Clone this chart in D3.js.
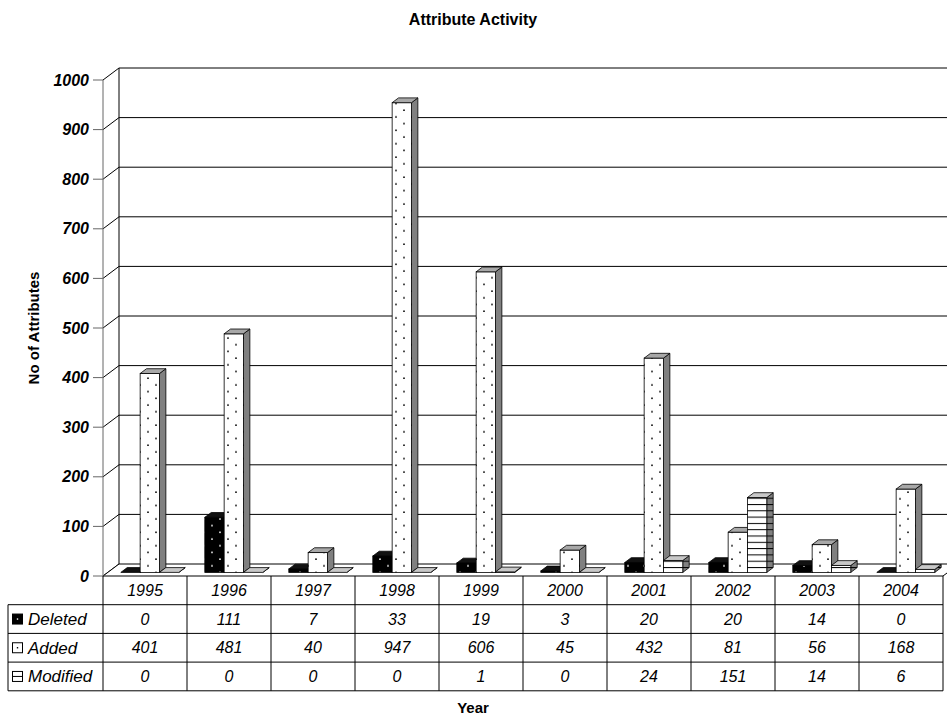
<!DOCTYPE html>
<html>
<head>
<meta charset="utf-8">
<script src="https://cdn.jsdelivr.net/npm/d3@7"></script>
<style>
  body { margin: 0; background: #fff; }
  svg { font-family: Arial, "Liberation Sans", sans-serif; }
</style>
</head>
<body>
<div id="chart"></div>
<script>
// Attribute Activity - 3D clustered columns with data table
const years = ['1995', '1996', '1997', '1998', '1999', '2000', '2001', '2002', '2003', '2004'];
const seriesNames = ['Deleted', 'Added', 'Modified'];
const deleted = [0, 111, 7, 33, 19, 3, 20, 20, 14, 0];
const added = [401, 481, 40, 947, 606, 45, 432, 81, 56, 168];
const modified = [0, 0, 0, 0, 1, 0, 24, 151, 14, 6];
const yTicks = [0, 100, 200, 300, 400, 500, 600, 700, 800, 900, 1000];

const seriesValues = { Deleted: deleted, Added: added, Modified: modified };

const W = 947, H = 717;
const left = 103, right = 943, zeroY = 576, topY = 80;
const DX = 16, DY = -12;          // depth of the plot box
const rowH = 28.7;

const svg = d3.select('#chart').append('svg')
    .attr('width', W)
    .attr('height', H);

// patterns
const defs = svg.append('defs');
function dotPattern(id, bg, fg) {
    const p = defs.append('pattern')
        .attr('id', id)
        .attr('patternUnits', 'userSpaceOnUse')
        .attr('width', 16).attr('height', 13.4);
    p.append('rect').attr('width', 16).attr('height', 13.4).attr('fill', bg);
    p.append('circle').attr('cx', 4).attr('cy', 3).attr('r', 0.9).attr('fill', fg);
    p.append('circle').attr('cx', 12).attr('cy', 9.7).attr('r', 0.9).attr('fill', fg);
}
dotPattern('dotsAdded', '#fff', '#000');
dotPattern('dotsDeleted', '#000', '#fff');
function stripePattern(id, bg) {
    const p = defs.append('pattern')
        .attr('id', id)
        .attr('patternUnits', 'userSpaceOnUse')
        .attr('width', 8).attr('height', 6.3);
    p.append('rect').attr('width', 8).attr('height', 6.3).attr('fill', bg);
    p.append('line').attr('x1', 0).attr('x2', 8).attr('y1', 0.5).attr('y2', 0.5)
        .attr('stroke', '#000').attr('stroke-width', 1);
}
stripePattern('stripeFront', '#fff');
stripePattern('stripeSide', '#808080');

const faces = {
    Deleted: { front: 'url(#dotsDeleted)', side: '#000', top: '#111' },
    Added: { front: 'url(#dotsAdded)', side: '#808080', top: '#a8a8a8' },
    Modified: { front: 'url(#stripeFront)', side: 'url(#stripeSide)', top: '#c8c8c8' }
};

const y = d3.scaleLinear().domain([0, 1000]).range([zeroY, topY]);
const x0 = d3.scaleBand().domain(years).range([left, right]).padding(0);
const groupW = x0.bandwidth() * 0.69;
const x1 = d3.scaleBand().domain(seriesNames).range([0, groupW]).padding(0);

// walls and gridlines
const grid = svg.append('g');
yTicks.forEach(t => {
    grid.append('line')
        .attr('x1', left).attr('y1', y(t))
        .attr('x2', left + DX).attr('y2', y(t) + DY)
        .attr('stroke', '#000');
    if (t > 0) {
        grid.append('line')
            .attr('x1', left + DX).attr('y1', y(t) + DY)
            .attr('x2', right + DX).attr('y2', y(t) + DY)
            .attr('stroke', '#000');
    }
});
grid.append('line')
    .attr('x1', left + DX).attr('y1', y(1000) + DY)
    .attr('x2', left + DX).attr('y2', y(0) + DY)
    .attr('stroke', '#000');

// floor
svg.append('polygon')
    .attr('points', [[left, y(0)], [right, y(0)], [right + DX, y(0) + DY], [left + DX, y(0) + DY]].join(' '))
    .attr('fill', '#fff')
    .attr('stroke', '#000');

// y axis front edge and ticks
const axis = svg.append('g');
axis.append('line')
    .attr('x1', left).attr('x2', left)
    .attr('y1', y(1000)).attr('y2', y(0))
    .attr('stroke', '#666');
axis.selectAll('.tick')
    .data(yTicks)
    .enter()
    .append('line')
    .attr('x1', left - 10).attr('x2', left)
    .attr('y1', d => y(d)).attr('y2', d => y(d))
    .attr('stroke', '#666');
axis.selectAll('.tickLabel')
    .data(yTicks)
    .enter()
    .append('text')
    .attr('x', left - 14)
    .attr('y', d => y(d))
    .attr('dy', '0.35em')
    .attr('text-anchor', 'end')
    .style('font-size', '16px')
    .style('font-weight', 'bold')
    .style('font-style', 'italic')
    .text(d => d);

// bars
const fx = DX * 0.3, fy = DY * 0.3;   // bar front sits a bit into the box
const bx = DX * 0.4, by = DY * 0.4;   // bar depth
const bars = svg.append('g');
years.forEach((yr, i) => {
    seriesNames.forEach(s => {
        const v = seriesValues[s][i];
        const xl = x0(yr) + (x0.bandwidth() - groupW) / 2 + x1(s) + fx;
        const xr = xl + x1.bandwidth();
        const yt = y(v) + fy;
        const yb = y(0) + fy;
        const f = faces[s];
        const g = bars.append('g').attr('stroke', '#000').attr('stroke-width', 0.8);
        g.append('polygon')
            .attr('points', [[xr, yt], [xr + bx, yt + by], [xr + bx, yb + by], [xr, yb]].join(' '))
            .attr('fill', f.side);
        if (v > 0) {
            g.append('rect')
                .attr('x', xl).attr('y', yt)
                .attr('width', xr - xl).attr('height', yb - yt)
                .attr('fill', f.front);
        }
        g.append('polygon')
            .attr('points', [[xl, yt], [xl + bx, yt + by], [xr + bx, yt + by], [xr, yt]].join(' '))
            .attr('fill', f.top);
    });
});

// data table
const table = svg.append('g');
const tableLeft = 8;
const headTop = zeroY, headBottom = zeroY + rowH;
const rowTops = seriesNames.map((s, k) => headBottom + k * rowH);
const tableBottom = headBottom + seriesNames.length * rowH;

years.forEach((yr, i) => {
    table.append('line')
        .attr('x1', x0(yr)).attr('x2', x0(yr))
        .attr('y1', headTop).attr('y2', tableBottom)
        .attr('stroke', '#000');
});
table.append('line')
    .attr('x1', right).attr('x2', right)
    .attr('y1', headTop).attr('y2', tableBottom)
    .attr('stroke', '#000');
table.append('line')
    .attr('x1', tableLeft).attr('x2', tableLeft)
    .attr('y1', headBottom).attr('y2', tableBottom)
    .attr('stroke', '#000');
[headBottom, ...rowTops.slice(1), tableBottom].forEach(yy => {
    table.append('line')
        .attr('x1', tableLeft).attr('x2', right)
        .attr('y1', yy).attr('y2', yy)
        .attr('stroke', '#000');
});

table.selectAll('.yearLabel')
    .data(years)
    .enter()
    .append('text')
    .attr('x', d => x0(d) + x0.bandwidth() / 2)
    .attr('y', headTop + rowH / 2)
    .attr('dy', '0.35em')
    .attr('text-anchor', 'middle')
    .style('font-size', '16px')
    .style('font-style', 'italic')
    .text(d => d);

seriesNames.forEach((s, k) => {
    const cy = rowTops[k] + rowH / 2;
    // legend key
    const key = table.append('g');
    key.append('rect')
        .attr('x', 12.5).attr('y', cy - 5)
        .attr('width', 10).attr('height', 10)
        .attr('fill', s === 'Deleted' ? '#000' : '#fff')
        .attr('stroke', '#000');
    if (s === 'Modified') {
        key.append('line')
            .attr('x1', 12.5).attr('x2', 22.5)
            .attr('y1', cy).attr('y2', cy)
            .attr('stroke', '#000');
    } else {
        key.append('rect')
            .attr('x', 16.8).attr('y', cy - 0.7)
            .attr('width', 1.4).attr('height', 1.4)
            .attr('fill', s === 'Deleted' ? '#fff' : '#000');
    }
    table.append('text')
        .attr('x', 28)
        .attr('y', cy)
        .attr('dy', '0.35em')
        .style('font-size', '17px')
        .style('font-style', 'italic')
        .text(s);
    table.selectAll('.val' + k)
        .data(seriesValues[s])
        .enter()
        .append('text')
        .attr('x', (d, i) => x0(years[i]) + x0.bandwidth() / 2)
        .attr('y', cy)
        .attr('dy', '0.35em')
        .attr('text-anchor', 'middle')
        .style('font-size', '16px')
        .style('font-style', 'italic')
        .text(d => d);
});

// titles
svg.append('text')
    .attr('x', 473).attr('y', 19)
    .attr('dy', '0.35em')
    .attr('text-anchor', 'middle')
    .style('font-size', '16px')
    .style('font-weight', 'bold')
    .text('Attribute Activity');

svg.append('text')
    .attr('transform', `translate(34,${(y(0) + y(1000)) / 2}) rotate(-90)`)
    .attr('dy', '0.35em')
    .attr('text-anchor', 'middle')
    .style('font-size', '15px')
    .style('font-weight', 'bold')
    .text('No of Attributes');

svg.append('text')
    .attr('x', 473).attr('y', 708)
    .attr('dy', '0.35em')
    .attr('text-anchor', 'middle')
    .style('font-size', '15px')
    .style('font-weight', 'bold')
    .text('Year');
</script>
</body>
</html>
